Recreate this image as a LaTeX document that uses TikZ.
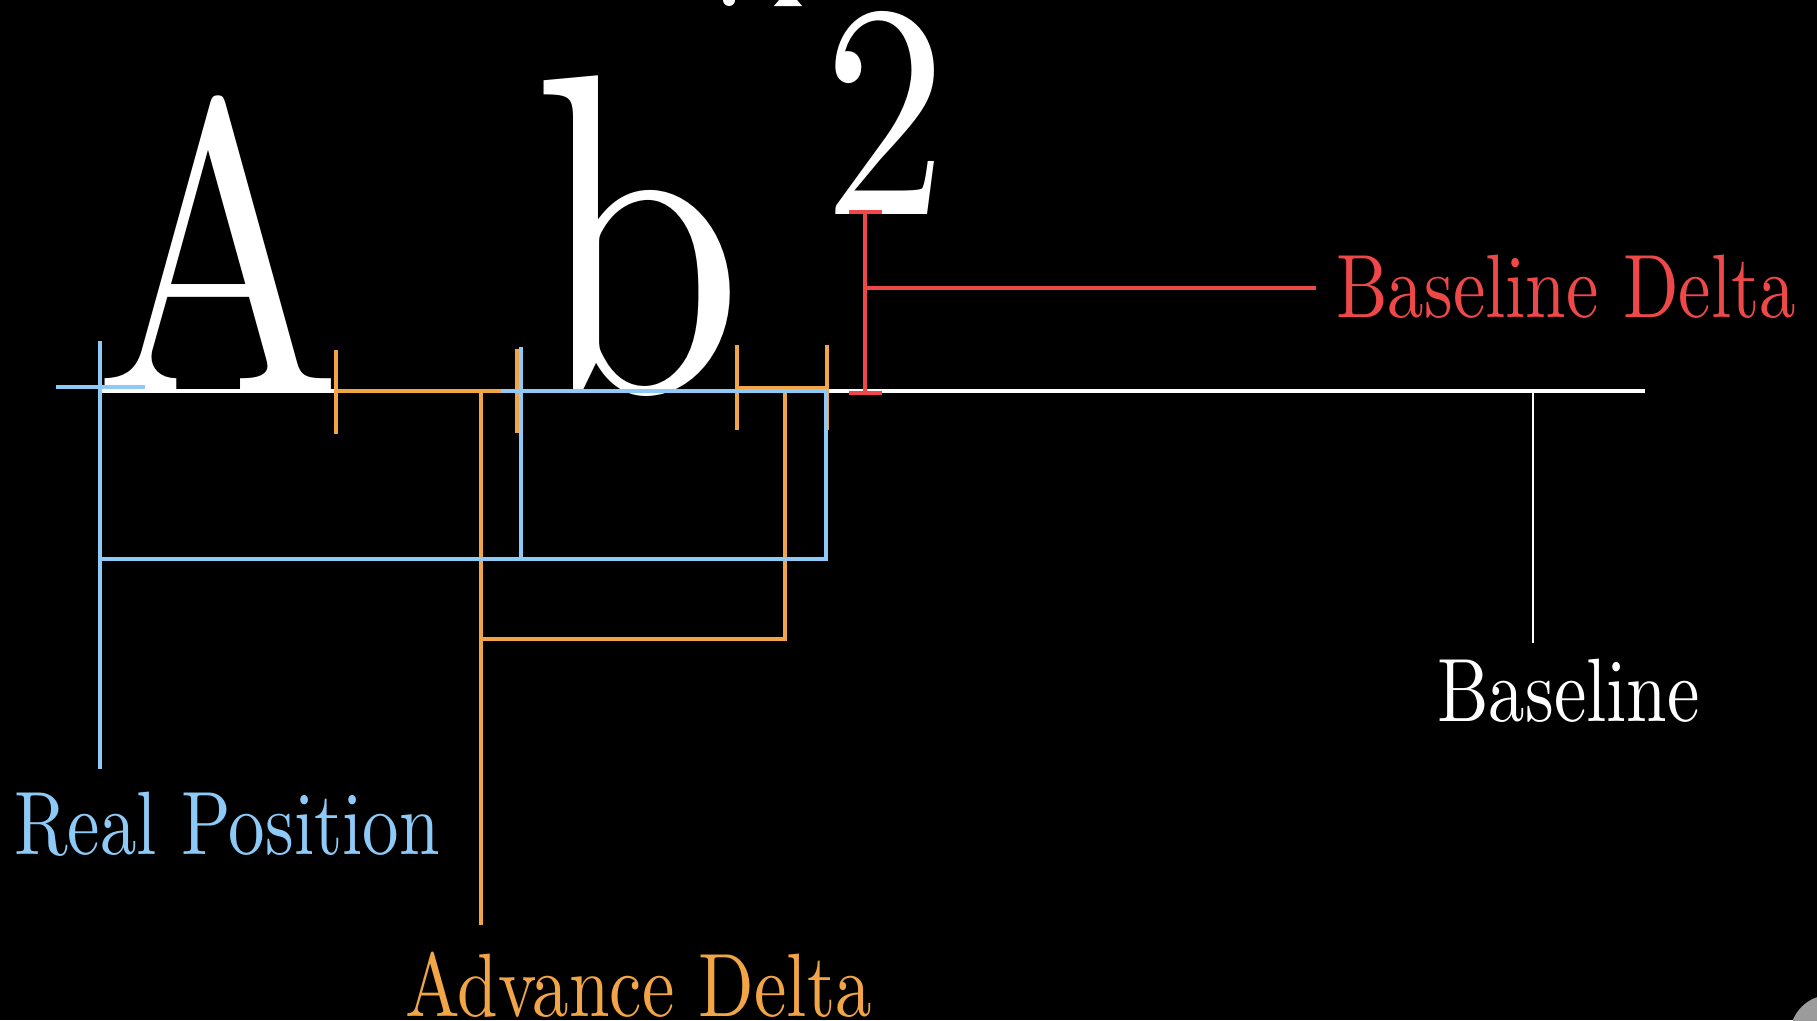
\documentclass[tikz,border=0pt]{standalone}
\usepackage{fontspec}
\newfontfamily\glyphfont{lmroman10-regular.otf}
\newfontfamily\labelfont{lmroman10-regular.otf}[FakeStretch=0.81]
\definecolor{realblue}{RGB}{142,202,248}
\definecolor{advorange}{RGB}{242,165,70}
\definecolor{deltared}{RGB}{238,72,72}
\definecolor{dotgray}{RGB}{155,155,155}

\begin{document}
\begin{tikzpicture}[x=1pt,y=-1pt,
  glyph/.style 2 args={text=white,inner sep=0pt,anchor=base,
    font=\glyphfont\addfontfeatures{FakeStretch=#2}\fontsize{#1}{#1}\selectfont},
  lbl/.style={inner sep=0pt,anchor=base west,font=\labelfont\fontsize{90}{90}\selectfont},
  realpos/.style={draw=realblue,line width=4.6pt},
  advdelta/.style={draw=advorange,line width=4.6pt},
  basedelta/.style={draw=deltared,line width=4.8pt}]
\useasboundingbox[fill=black] (0,0) rectangle (1817,1020);
% the three glyphs
\node[glyph={413}{0.80}] (A) at (218,391) {A};
\node[glyph={455}{0.83}] (b) at (638,391) {b};
\node[glyph={305}{0.81}] (two) at (885,214) {2};
% bits of the line above, cut off by the frame
\fill[white] (729,0) ellipse (6 and 6);
\fill[white] (774,6) -- (802,6) -- (797,0) -- (779,0) -- cycle;
\fill[dotgray] (1830,1035) circle (40);
% labels
\node[lbl,text=realblue,inner ysep=22pt] (rplabel) at (14,854) {Real Position};
\node[lbl,text=advorange,inner ysep=26pt] (adlabel) at (405,1016) {Advance Delta};
\node[lbl,text=deltared,inner xsep=20pt] (bdlabel) at (1316,317) {Baseline Delta};
\node[lbl,text=white,inner ysep=15pt] (bllabel) at (1437,721) {Baseline};
\coordinate (rpA) at (100,341);
\coordinate (adA) at (481,393);
\coordinate (bdmid) at (865,288);
\coordinate (blfoot) at (1533,393);
% baseline
\draw[white,line width=4.7pt] (100,391) -- (1645,391);
\draw[white,line width=1.5pt] (blfoot) -- (blfoot |- bllabel.north);
% advance delta
\draw[advdelta] (336,350) -- (336,434);
\draw[advdelta] (517,349) -- (517,433);
\draw[advdelta] (737,345) -- (737,430);
\draw[advdelta] (827,345) -- (827,430);
\draw[advdelta] (336,391) -- (501,391);
\draw[advdelta] (737,388) -- (827,388);
\draw[advdelta] (785,393) -- (785,639) -- (481,639);
\draw[advdelta] (adA) -- (adA |- adlabel.north);
% real position
\draw[realpos] (56,387) -- (145,387);
\draw[realpos] (rpA) -- (rpA |- rplabel.north);
\draw[realpos] (521,347) -- (521,559);
\draw[realpos] (501,391) -| (826,559) -- (100,559);
% baseline delta
\draw[basedelta] (865,212) -- (865,393);
\draw[basedelta] (849,212) -- (882,212);
\draw[basedelta] (849,393) -- (882,393);
\draw[basedelta] (bdmid) -- (bdmid -| bdlabel.west);
\end{tikzpicture}
\end{document}
